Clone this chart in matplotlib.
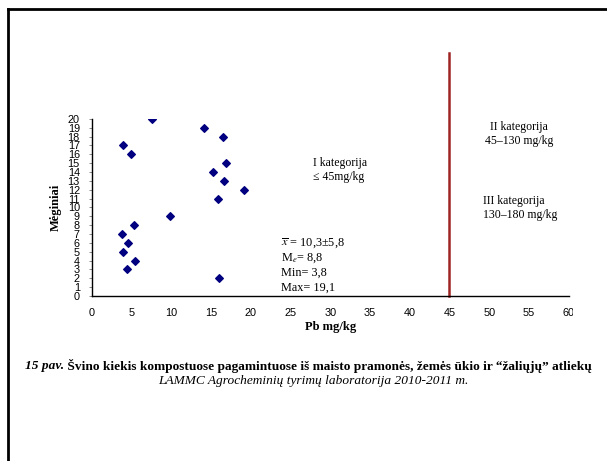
import matplotlib
matplotlib.use("Agg")
import matplotlib.pyplot as plt
from matplotlib.lines import Line2D
from matplotlib.transforms import Bbox

# -- Data
samples = [20, 19, 18, 17, 16, 15, 14, 13, 12, 11, 9, 8, 7, 6, 5, 4, 3, 2]
pb_values = [7.6, 14.1, 16.5, 4.0, 5.0, 16.9, 15.2, 16.7, 19.1, 15.9,
             9.9, 5.3, 3.8, 4.6, 4.0, 5.5, 4.4, 16.0]
limit_value = 45
limit_top = 27.4
x_ticks = list(range(0, 61, 5))
y_ticks = list(range(0, 21))

stats_lines = [r"$\overline{x}$ = 10,3±5,8", r"M$_e$= 8,8", "Min= 3,8", "Max= 19,1"]

plt.rcParams["mathtext.fontset"] = "stix"
SERIF = "Liberation Serif"
SANS = "Liberation Sans"

fig = plt.figure(figsize=(6.07, 4.61), dpi=100)
ax = fig.add_axes([0.151, 0.358, 0.786, 0.384])

ax.scatter(pb_values, samples, marker="D", s=15, color="#000080", zorder=3)
ax.plot([limit_value, limit_value], [0, limit_top], color="#9E2424",
        linewidth=1.8, clip_on=False, zorder=2)

ax.set_xlim(0, 60)
ax.set_ylim(0, 20)
ax.set_xticks(x_ticks)
ax.set_yticks(y_ticks)
ax.tick_params(axis="x", length=0, pad=9, labelsize=7.8)
ax.tick_params(axis="y", length=2.5, width=0.6, color="#777777", pad=6,
               labelsize=7.8)
for lbl in ax.get_xticklabels() + ax.get_yticklabels():
    lbl.set_fontfamily(SANS)

ax.spines["top"].set_visible(False)
ax.spines["right"].set_visible(False)
ax.spines["left"].set_linewidth(1.0)
ax.spines["bottom"].set_linewidth(1.0)

ax.set_xlabel("Pb mg/kg", fontfamily=SERIF, fontweight="bold", fontsize=9,
              labelpad=2)
ax.set_ylabel("Mėginiai", fontfamily=SERIF, fontweight="bold", fontsize=9,
              labelpad=4)

# -- Clip the "60" label at the right edge like the reference
fig.canvas.draw()
last = ax.get_xticklabels()[-1]
last.set_clip_box(Bbox.from_extents(0, 0, 573, 461))
last.set_clip_on(True)

# -- Annotations inside the plot
cat = dict(fontfamily=SERIF, fontsize=8.5, linespacing=1.3, va="center")
fig.text(313 / 607, 1 - 170 / 461, "I kategorija\n≤ 45mg/kg", ha="left", **cat)
fig.text(519 / 607, 1 - 134 / 461, "II kategorija\n45–130 mg/kg", ha="center",
         **cat)
fig.text(483 / 607, 1 - 208 / 461, "III kategorija\n130–180 mg/kg", ha="left",
         **cat)
for i, line in enumerate(stats_lines):
    fig.text(281 / 607, 1 - (243 + 15 * i) / 461, line, ha="left",
             va="center", fontfamily=SERIF, fontsize=8.8)

# -- Caption
cap1 = fig.text(25 / 607, 1 - 366 / 461, "15 pav.", fontfamily=SERIF,
                fontsize=9.6, fontweight="bold", fontstyle="italic",
                ha="left", va="center")
fig.canvas.draw()
ax.annotate(" Švino kiekis kompostuose pagamintuose iš maisto pramonės, "
            "žemės ūkio ir “žaliųjų” atliekų",
            xy=(1, 0.5), xycoords=cap1, ha="left", va="center",
            fontfamily=SERIF, fontsize=9.6, fontweight="bold",
            annotation_clip=False)
fig.text(313 / 607, 1 - 381 / 461,
         "LAMMC Agrocheminių tyrimų laboratorija 2010-2011 m.",
         fontfamily=SERIF, fontsize=9.6, fontstyle="italic",
         ha="center", va="center")

# -- Slide frame (top and left edges)
fig.add_artist(Line2D([8 / 607, 1], [1 - 9 / 461, 1 - 9 / 461],
                      transform=fig.transFigure, color="black", linewidth=2))
fig.add_artist(Line2D([8 / 607, 8 / 607], [0, 1 - 9 / 461],
                      transform=fig.transFigure, color="black", linewidth=2))

fig.savefig("out.png", dpi=100)
